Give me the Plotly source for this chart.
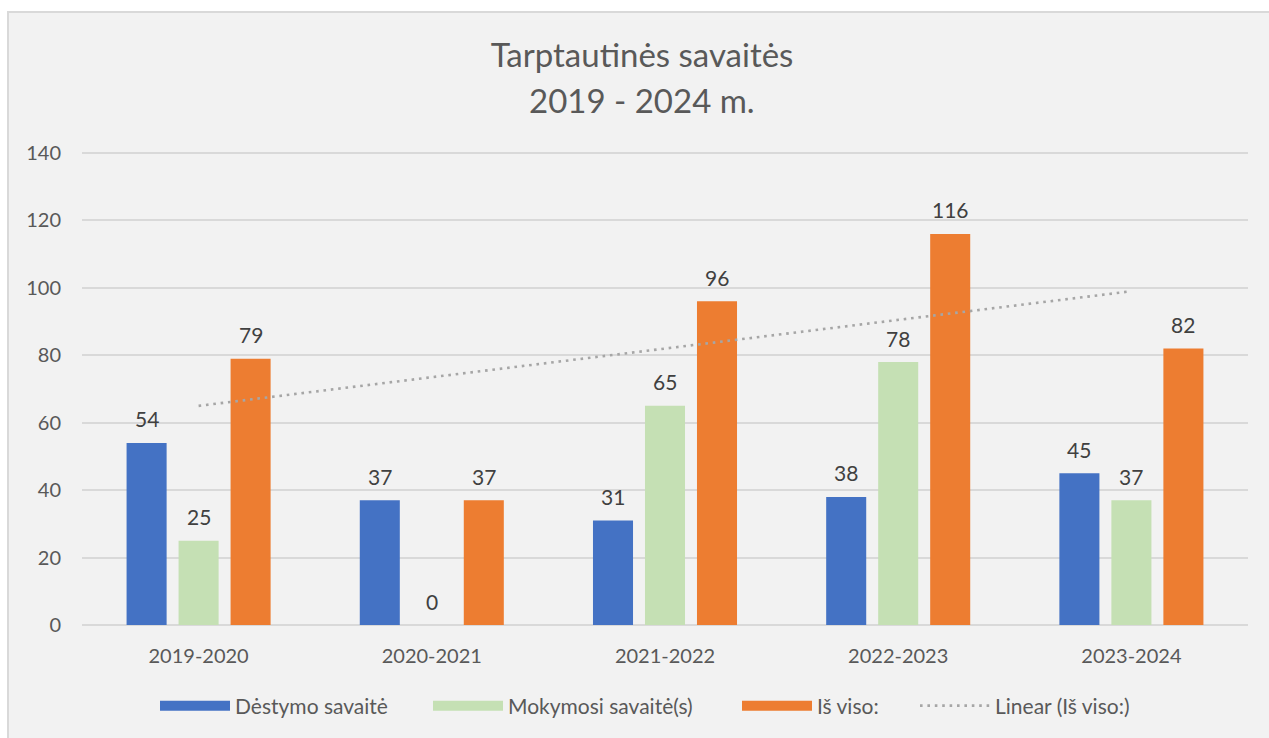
import numpy as np
import plotly.graph_objects as go

# Academic years shown on the x axis
categories = ["2019-2020", "2020-2021", "2021-2022", "2022-2023", "2023-2024"]

# Weeks per year for each series
destymo = [54, 37, 31, 38, 45]
mokymosi = [25, 0, 65, 78, 37]
is_viso = [79, 37, 96, 116, 82]

series_names = ["Dėstymo savaitė", "Mokymosi savaitė(s)", "Iš viso:"]
series_values = [destymo, mokymosi, is_viso]
series_colors = ["#4472C4", "#C5E0B4", "#ED7D31"]
trend_name = "Linear (Iš viso:)"

y_ticks = [0, 20, 40, 60, 80, 100, 120, 140]

FONT = "Lato"
TEXT_GREY = "#595959"
GRID = "#D9D9D9"

W, H = 1269, 738
L, R, T, B = 82, 21, 152, 113
plot_w = W - L - R
plot_h = H - T - B
BARGAP = 0.331
BARGROUPGAP = 0.23

# Left edge (px) of each legend entry
legend_px = [160, 433, 742, 920]
legend_ids = ["legend", "legend2", "legend3", "legend4"]

x_idx = list(range(len(categories)))

fig = go.Figure()

for k, (name, vals, col) in enumerate(zip(series_names, series_values, series_colors)):
    fig.add_trace(go.Bar(
        x=x_idx, y=vals, name=name, legendgroup=name, showlegend=False,
        marker=dict(color=col, line=dict(width=0)),
        hovertemplate=name + ": %{y}<extra></extra>",
    ))
    # wide swatch for the legend entry
    fig.add_trace(go.Scatter(
        x=[None], y=[None], mode="lines", name=name, legendgroup=name,
        line=dict(color=col, width=14), legend=legend_ids[k],
    ))

# Linear trend of the total
coef = np.polyfit(np.array(x_idx, dtype=float), np.array(is_viso, dtype=float), 1)
trend_x = [x_idx[0], x_idx[-1]]
trend_y = [float(np.polyval(coef, v)) for v in trend_x]
fig.add_trace(go.Scatter(
    x=trend_x, y=trend_y, mode="lines", name=trend_name,
    line=dict(color="#A6A6A6", width=2.6, dash="2.6px,4.8px"),
    legend=legend_ids[3],
))

# Value labels above every bar
slot = (1 - BARGAP) / len(series_values)
annotations = []
for i, vals in enumerate(series_values):
    off = (i - (len(series_values) - 1) / 2) * slot
    for j, v in enumerate(vals):
        annotations.append(dict(
            x=j + off, y=v, xref="x", yref="y", text=str(v),
            showarrow=False, yanchor="middle", yshift=24,
            font=dict(family=FONT, size=21, color="#404040"),
        ))

# Second title line
annotations.append(dict(
    x=(642 - L) / plot_w, y=(H - B - 100) / plot_h,
    xref="paper", yref="paper", text="2019 - 2024 m.", showarrow=False,
    xanchor="center", yanchor="middle",
    font=dict(family=FONT, size=33, color=TEXT_GREY),
))

legend_common = dict(
    orientation="h", xanchor="left", yanchor="middle",
    y=(H - B - 706) / plot_h, itemwidth=70,
    font=dict(family=FONT, size=21, color=TEXT_GREY),
    bgcolor="rgba(0,0,0,0)", borderwidth=0,
)
legends = {}
for lid, px in zip(legend_ids, legend_px):
    legends[lid] = dict(legend_common, x=(px - 5 - L) / plot_w)

fig.update_layout(
    width=W, height=H,
    margin=dict(l=L, r=R, t=T, b=B, pad=0),
    paper_bgcolor="white",
    plot_bgcolor="rgba(0,0,0,0)",
    barmode="group", bargap=BARGAP, bargroupgap=BARGROUPGAP,
    title=dict(
        text="Tarptautinės savaitės",
        x=642 / W, xanchor="center", xref="container",
        y=1 - 55 / H, yanchor="middle", yref="container",
        font=dict(family=FONT, size=33, color=TEXT_GREY),
    ),
    font=dict(family=FONT, size=20, color=TEXT_GREY),
    xaxis=dict(
        range=[-0.5, len(categories) - 0.5],
        tickmode="array", tickvals=x_idx, ticktext=categories,
        showgrid=False, zeroline=False, showline=False, ticks="",
        tickfont=dict(family=FONT, size=20, color=TEXT_GREY),
        ticklabelstandoff=17,
    ),
    yaxis=dict(
        range=[0, 140.3], tickmode="array", tickvals=y_ticks,
        showgrid=True, gridcolor=GRID, gridwidth=2,
        zeroline=True, zerolinecolor=GRID, zerolinewidth=2,
        showline=False, ticks="",
        tickfont=dict(family=FONT, size=20, color=TEXT_GREY),
        ticklabelstandoff=20,
    ),
    annotations=annotations,
    shapes=[dict(
        type="rect", xref="paper", yref="paper", layer="below",
        x0=(8 - L) / plot_w, x1=(W + 4 - L) / plot_w,
        y0=(H - B - H - 4) / plot_h, y1=(H - B - 12) / plot_h,
        fillcolor="#F2F2F2", line=dict(color="#D9D9D9", width=2),
    )],
    showlegend=True,
    **legends,
)

fig.write_html("out.html")
